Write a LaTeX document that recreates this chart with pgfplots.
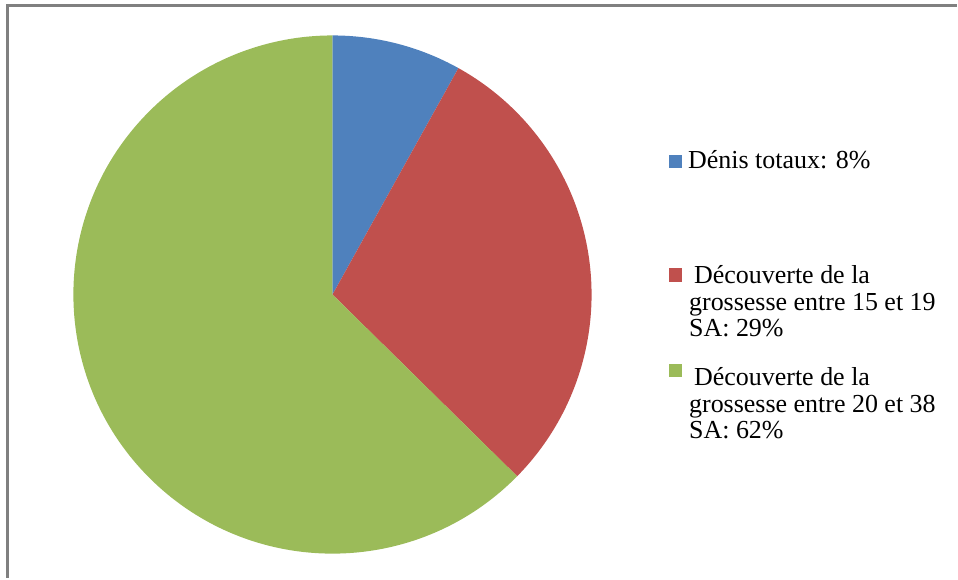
\documentclass[border=0pt]{standalone}
\usepackage{pgfplots}
\usepackage{pgfplotstable}
\pgfplotsset{compat=1.18}
\usepackage{fontspec}
\setmainfont{Liberation Serif}
\definecolor{cA}{HTML}{4F81BD}
\definecolor{cB}{HTML}{C0504D}
\definecolor{cC}{HTML}{9BBB59}
\definecolor{frame}{HTML}{808080}
\pgfplotstableread{
label value
a 8
b 29
c 62
}\piedata
\pgfplotstablegetelem{0}{value}\of\piedata\let\va\pgfplotsretval
\pgfplotstablegetelem{1}{value}\of\piedata\let\vb\pgfplotsretval
\pgfplotstablegetelem{2}{value}\of\piedata\let\vc\pgfplotsretval
\pgfmathsetmacro\tot{\va+\vb+\vc}
\pgfmathsetmacro\aA{90}
\pgfmathsetmacro\aB{90-360*(\va/\tot)}
\pgfmathsetmacro\aC{\aB-360*(\vb/\tot)}
\pgfmathsetmacro\aD{\aC-360*(\vc/\tot)}
\newcommand\lf{\fontsize{26}{27}\selectfont}
\begin{document}
\begin{tikzpicture}
\begin{axis}[x=1pt,y=1pt,xmin=0,xmax=958,ymin=0,ymax=579,hide axis,clip=false,
  scale only axis]
\path (axis cs:0,0) (axis cs:958,579);
\def\cx{333}\def\cy{284}\def\r{259.5}
\fill[cA] (axis cs:\cx,\cy) -- ++(\aA:\r pt) arc[start angle=\aA,end angle=\aB,radius=\r pt] -- cycle;
\fill[cB] (axis cs:\cx,\cy) -- ++(\aB:\r pt) arc[start angle=\aB,end angle=\aC,radius=\r pt] -- cycle;
\fill[cC] (axis cs:\cx,\cy) -- ++(\aC:\r pt) arc[start angle=\aC,end angle=\aD,radius=\r pt] -- cycle;
% frame
\draw[frame,line width=3pt] (axis cs:6.5,573) -- (axis cs:958,573);
\draw[frame,line width=3pt] (axis cs:8,574.5) -- (axis cs:8,0);
% legend
\fill[cA] (axis cs:670,411) rectangle (axis cs:683,424);
\fill[cB] (axis cs:670,297) rectangle (axis cs:683,311);
\fill[cC] (axis cs:670,201) rectangle (axis cs:683,214);
\begin{scope}[every node/.style={anchor=base west,inner sep=0pt,font=\lf}]
\node at (axis cs:689,410) {Dénis totaux: 8\%};
\node at (axis cs:695,295) {Découverte de la};
\node at (axis cs:690,268.3) {grossesse entre 15 et 19};
\node at (axis cs:690,242) {SA: 29\%};
\node at (axis cs:695,193.3) {Découverte de la};
\node at (axis cs:690,166.3) {grossesse entre 20 et 38};
\node at (axis cs:690,140) {SA: 62\%};
\end{scope}
\end{axis}
\end{tikzpicture}
\end{document}
